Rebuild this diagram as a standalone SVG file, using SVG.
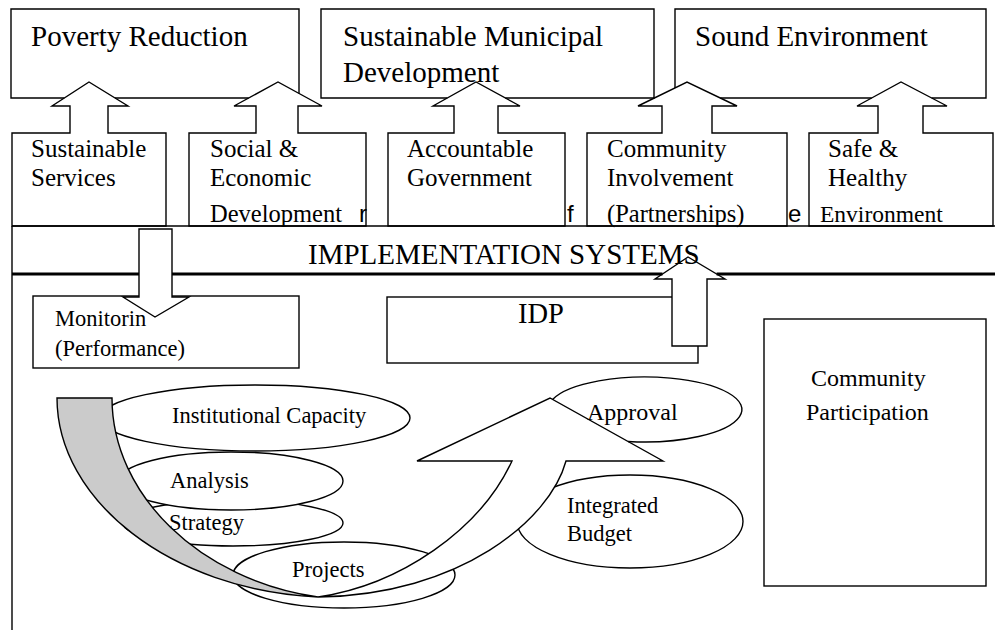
<svg xmlns="http://www.w3.org/2000/svg" width="995" height="630" viewBox="0 0 995 630">
  <style>
    .ln { fill: none; stroke: #000; stroke-width: 1.4; stroke-linejoin: miter; }
    .box { fill: #fff; stroke: #000; stroke-width: 1.4; }
    .t { font-family: "Liberation Serif", "Times New Roman", serif; fill: #000; }
    .big { font-size: 29px; }
    .mid { font-size: 25px; }
    .sm { font-size: 22.5px; }
    .sans { font-family: "Liberation Sans", Arial, sans-serif; font-size: 24px; fill: #000; }
  </style>
  <rect x="0" y="0" width="995" height="630" fill="#fff"/>

  <!-- process ellipses (lower left) -->
  <g id="strategy">
    <ellipse class="box" cx="233" cy="523" rx="110" ry="23"/>
    <text class="t sm" x="169" y="530">Strategy</text>
  </g>
  <g id="analysis">
    <ellipse class="box" cx="231" cy="481" rx="112" ry="29"/>
    <text class="t sm" x="170" y="488">Analysis</text>
  </g>
  <g id="institutional-capacity">
    <ellipse class="box" cx="255" cy="418" rx="155" ry="33"/>
    <text class="t sm" x="172" y="423">Institutional Capacity</text>
  </g>
  <g id="projects">
    <ellipse class="box" cx="344" cy="575" rx="111" ry="33"/>
    <text class="t sm" x="292" y="577">Projects</text>
  </g>
  <g id="integrated-budget">
    <ellipse class="box" cx="630" cy="521.5" rx="113" ry="46.5"/>
    <text class="t sm" x="567" y="513">Integrated</text>
    <text class="t sm" x="567" y="541">Budget</text>
  </g>

  <!-- plain boxes in the implementation area -->
  <g id="monitoring">
    <rect class="box" x="33" y="296" width="266" height="72"/>
    <text class="t sm" x="55" y="326">Monitorin</text>
    <text class="t sm" x="55" y="356">(Performance)</text>
  </g>
  <g id="idp">
    <rect class="box" x="387" y="297" width="311" height="66"/>
    <text class="t" font-size="28.5" x="518" y="323">IDP</text>
  </g>
  <g id="community-participation">
    <rect class="box" x="764" y="319" width="222" height="267"/>
    <text class="t" font-size="24" x="811" y="386">Community</text>
    <text class="t" font-size="24" x="806" y="420">Participation</text>
  </g>

  <!-- outcome boxes with up-arrow callouts -->
  <g id="sustainable-services">
    <path class="box" d="M12 226 L12 133 L70 133 L70 106 L52 106 L89 82 L128 106 L108 106 L108 133 L166 133 L166 226 Z"/>
    <text class="t mid" x="31" y="157">Sustainable</text>
    <text class="t mid" x="31" y="186">Services</text>
  </g>
  <g id="social-economic">
    <path class="box" d="M189 226 L189 133 L256 133 L256 106 L234 106 L278 82 L322 106 L298 106 L298 133 L366 133 L366 226 Z"/>
    <text class="t mid" x="210" y="157">Social &amp;</text>
    <text class="t mid" x="210" y="186">Economic</text>
    <text class="t" font-size="24.5" x="210" y="222">Development</text>
  </g>
  <g id="accountable-government">
    <path class="box" d="M388 226 L388 133 L454 133 L454 106 L433 106 L476 82 L520 106 L498 106 L498 133 L565 133 L565 226 Z"/>
    <text class="t mid" x="407" y="157">Accountable</text>
    <text class="t mid" x="407" y="186">Government</text>
  </g>
  <g id="community-involvement">
    <path class="box" d="M587 226 L587 133 L662 133 L662 106 L638 106 L687 82 L737 106 L712 106 L712 133 L787 133 L787 226 Z"/>
    <text class="t mid" x="607" y="157">Community</text>
    <text class="t mid" x="607" y="186">Involvement</text>
    <text class="t" font-size="24.5" x="607" y="222">(Partnerships)</text>
  </g>
  <g id="safe-healthy">
    <path class="box" d="M809 226 L809 133 L878 133 L878 106 L857 106 L901 82 L947 106 L923 106 L923 133 L993 133 L993 226 Z"/>
    <text class="t mid" x="828" y="157">Safe &amp;</text>
    <text class="t mid" x="828" y="186">Healthy</text>
    <text class="t" font-size="23.5" x="820" y="222">Environment</text>
  </g>

  <!-- connectors: block arrows and the curved cycle arrow -->
  <g id="connectors">
    <path class="box" d="M139 229 L172 229 L172 297 L189 297 L155 317 L123 297 L139 297 Z"/>
    <path class="box" d="M672 346 L672 279 L655 279 L688 257 L725 279 L707 279 L707 346 Z"/>
    <path d="M57 398 L112 398 C112 495 200 580 318 597 C170 590 57 500 57 398 Z" fill="#cbcbcb" stroke="#000" stroke-width="1.4"/>
    <path class="box" d="M318 597 C400 585 480 530 512 461 L417 461 L550 398 L663 461 L566 461 C550 520 460 595 318 597 Z"/>
  </g>

  <g id="approval">
    <path class="ln" d="M552.6 399.5 A97 32.5 0 1 1 628 441.5"/>
    <text class="t" font-size="24" x="587" y="420">Approval</text>
  </g>

  <!-- goal boxes (outlines open where the arrow heads pass) -->
  <g id="poverty-reduction">
    <path class="ln" d="M64.3 98 L11 98 L11 9 L299 9 L299 93.5 M115 98 L248.7 98"/>
    <text class="t big" x="31" y="46">Poverty Reduction</text>
  </g>
  <g id="sustainable-municipal-development">
    <path class="ln" d="M447.3 98 L321 98 L321 9 L654 9 L654 98 L505.3 98"/>
    <text class="t big" x="343" y="46">Sustainable Municipal</text>
    <text class="t big" x="343" y="82">Development</text>
  </g>
  <g id="sound-environment">
    <path class="ln" d="M675 87.9 L675 9 L986 9 L986 98 L931.7 98 M871.7 98 L720.3 98"/>
    <text class="t big" x="695" y="46">Sound Environment</text>
  </g>

  <!-- implementation systems band -->
  <g id="implementation-systems">
    <path class="ln" d="M12 226 L995 226 M12 226 L12 630"/>
    <path d="M12 274 L139 274 M172 274 L662.5 274 M716.6 274 L995 274" fill="none" stroke="#000" stroke-width="3"/>
    <text class="t big" x="308" y="264">IMPLEMENTATION SYSTEMS</text>
  </g>

  <!-- loose characters -->
  <g id="loose-characters">
    <text class="sans" x="359" y="222">r</text>
    <text class="sans" x="567" y="222">f</text>
    <text class="sans" x="788" y="222">e</text>
  </g>
</svg>
